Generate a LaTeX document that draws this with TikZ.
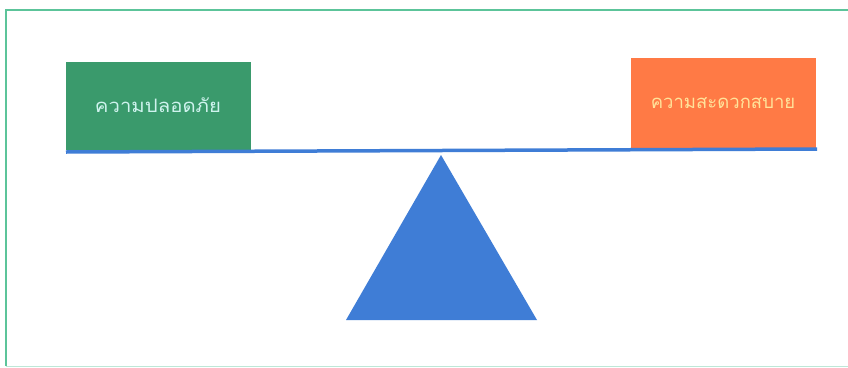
\documentclass[tikz,border=0pt]{standalone}
\usepackage{fontspec}
\newfontfamily\thaifont[Script=Thai]{Loma}
\definecolor{framegreen}{HTML}{5CC49A}
\definecolor{boxgreen}{HTML}{3A9A6C}
\definecolor{boxorange}{HTML}{FF7A45}
\definecolor{beamblue}{HTML}{3F7DD6}
\definecolor{txtgreen}{HTML}{CFF3EE}
\definecolor{txtorange}{HTML}{FFE39A}
\begin{document}
\begin{tikzpicture}[x=1pt,y=-1pt,
  weight/.style={inner sep=0pt, font=\thaifont\fontsize{18.5}{22}\selectfont}]
\useasboundingbox (0,0) rectangle (848,367);
\fill[white] (0,0) rectangle (848,367);
\draw[framegreen, line width=1.5pt] (6,366) -- (6,10) -- (848,10);
\draw[framegreen!40, line width=1pt] (6,366) -- (848,366);
\fill[boxgreen] (66,62) rectangle (251,150);
\fill[boxorange] (631,58) rectangle (816,148);
\node[weight, text=txtgreen, xscale=1.1] (safe) at (158,105) {ความปลอดภัย};
\node[weight, text=txtorange] (comfort) at (723,103) {ความสะดวกสบาย};
\coordinate (bl) at (66,152);
\coordinate (br) at (817,149);
\draw[beamblue, line width=3.5pt] (bl) -- (br);
\coordinate (apex) at (441,155);
\coordinate (basel) at (346,320);
\coordinate (baser) at (537,320);
\fill[beamblue] (apex) -- (baser) -- (basel) -- cycle;
\end{tikzpicture}
\end{document}
